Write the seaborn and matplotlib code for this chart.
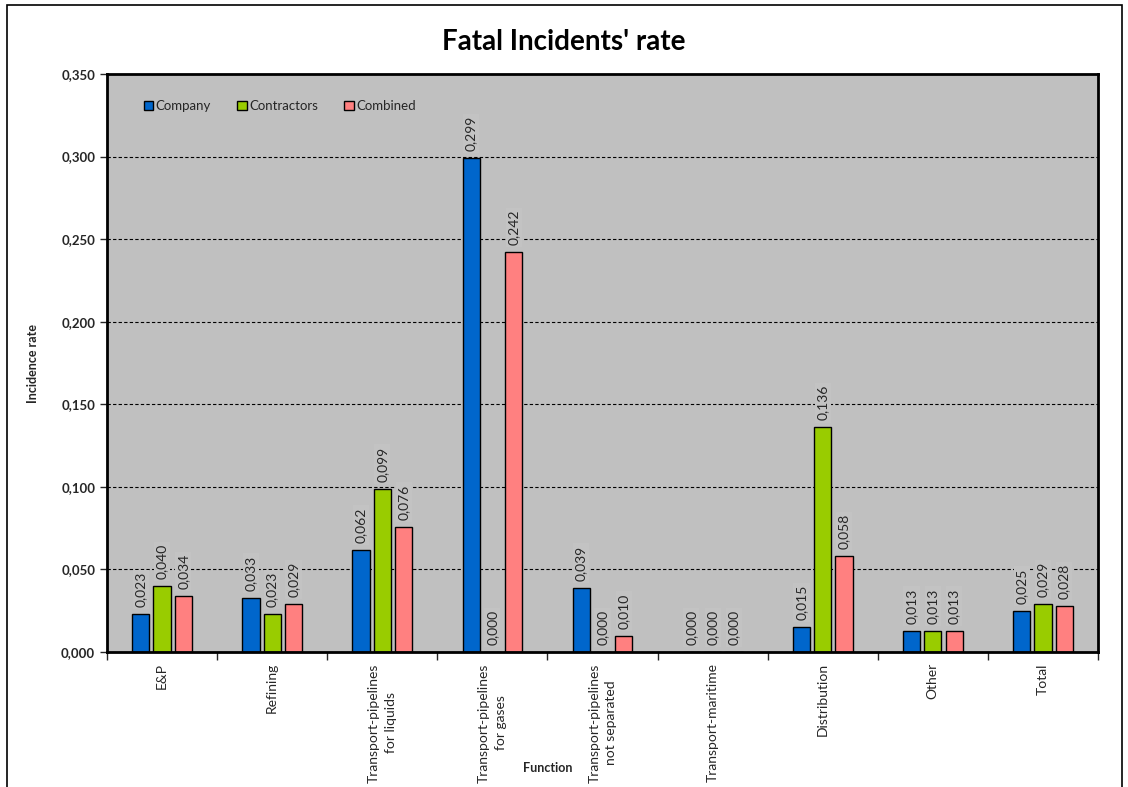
import pandas as pd
import matplotlib.pyplot as plt
import matplotlib.patches as mpatches
from matplotlib.ticker import FuncFormatter
import seaborn as sns
import numpy as np

# Data
functions = ['E&P', 'Refining', 'Transport-pipelines\nfor liquids',
             'Transport-pipelines\nfor gases', 'Transport-pipelines\nnot separated',
             'Transport-maritime', 'Distribution', 'Other', 'Total']
series = ['Company', 'Contractors', 'Combined']
company = [0.023, 0.033, 0.062, 0.299, 0.039, 0.000, 0.015, 0.013, 0.025]
contractors = [0.040, 0.023, 0.099, 0.000, 0.000, 0.000, 0.136, 0.013, 0.029]
combined = [0.034, 0.029, 0.076, 0.242, 0.010, 0.000, 0.058, 0.013, 0.028]
colors = ['#0066CC', '#99CC00', '#FF8080']

df = pd.DataFrame({
    'function': functions * 3,
    'series': [s for s in series for _ in functions],
    'rate': company + contractors + combined,
})

sns.set_style('white')
plt.rcParams['font.family'] = ['Lato', 'DejaVu Sans']

fig = plt.figure(figsize=(11.28, 7.87), dpi=100)
ax = fig.add_axes([0.0949, 0.1715, 0.8785, 0.7345])
ax.set_facecolor('#C0C0C0')

sns.barplot(data=df, x='function', y='rate', hue='series', palette=colors,
            order=functions, hue_order=series, width=0.58, gap=0.19,
            edgecolor='black', linewidth=1, saturation=1, ax=ax)

# value labels
for cont in ax.containers:
    ax.bar_label(cont, labels=[f'{v:.3f}'.replace('.', ',') for v in cont.datavalues],
                 rotation=90, padding=5, fontsize=10,
                 bbox=dict(facecolor='#C3C3C3', edgecolor='none', pad=1.5))

ax.set_ylim(0, 0.35)
ax.set_yticks(np.arange(0, 0.351, 0.05))
ax.yaxis.set_major_formatter(FuncFormatter(lambda v, p: f'{v:.3f}'.replace('.', ',')))
ax.grid(axis='y', color='black', linestyle=(0, (3, 2)), linewidth=0.8)
ax.set_axisbelow(True)
ax.set_xlim(-0.5, 8.5)

for lab in ax.get_yticklabels():
    lab.set_fontweight('bold')
ax.tick_params(axis='y', labelsize=9.5, length=5, width=1, direction='out', left=True)
ax.tick_params(axis='x', which='major', length=0, labelsize=10, pad=8)
ax.set_xticks(np.arange(-0.5, 9, 1), minor=True)
ax.tick_params(axis='x', which='minor', length=6, width=1, direction='out', bottom=True)
plt.setp(ax.get_xticklabels(), rotation=90, ha='center', va='top',
         multialignment='center', linespacing=1.45)

for sp in ax.spines.values():
    sp.set_color('black')
    sp.set_linewidth(2)

ax.set_xlabel('')
ax.set_ylabel('Incidence rate', fontsize=9, fontweight='bold', labelpad=16)

# legend
handles = [mpatches.Patch(facecolor=c, edgecolor='black', linewidth=1) for c in colors]
ax.legend(handles, series, loc='upper left', bbox_to_anchor=(0.025, 0.975), ncol=3,
          frameon=False, fontsize=9.5, handlelength=0.7, handleheight=0.7,
          handletextpad=0.2, columnspacing=2.0)

fig.suptitle("Fatal Incidents' rate", x=0.5, y=0.963, fontsize=20, fontweight='bold',
             color='black')
fig.text(0.486, 0.019, 'Function', fontsize=9, fontweight='bold', ha='center')

# outer chart border
border = mpatches.Rectangle((7 / 1128, -0.05), 1115 / 1128, 1.05 - 5 / 787,
                            transform=fig.transFigure, fill=False, edgecolor='black',
                            linewidth=1.2, clip_on=False)
fig.patches.append(border)

fig.savefig('out.png', dpi=100)
